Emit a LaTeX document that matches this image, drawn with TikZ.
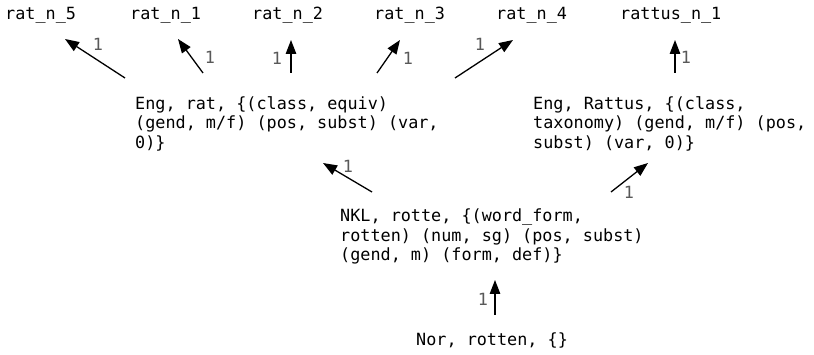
\documentclass[tikz,border=0pt]{standalone}
\usepackage{fontspec}
\setmonofont{DejaVu Sans Mono}
\usetikzlibrary{arrows.meta}

\tikzset{
  word/.style={font=\fontsize{16.8}{19.5}\selectfont\ttfamily, inner sep=0pt, anchor=base west},
  entry/.style={word, align=left, anchor=north west},
  edge/.style={line width=1.3pt, -{Triangle[length=14pt,width=10.5pt]}},
  weight/.style={font=\fontsize{16.8}{19.5}\selectfont\ttfamily, text=black!65, inner sep=0pt},
}

\begin{document}
\begin{tikzpicture}[x=1pt,y=-1pt]
    \useasboundingbox (0,0) rectangle (814,355);
    % senses on the top row
    \node[word] (r5) at (5,20) {rat\_n\_5};
    \node[word] (r1) at (130,20) {rat\_n\_1};
    \node[word] (r2) at (252,20) {rat\_n\_2};
    \node[word] (r3) at (374,20) {rat\_n\_3};
    \node[word] (r4) at (496,20) {rat\_n\_4};
    \node[word] (rn1) at (620,20) {rattus\_n\_1};
    % lexical entries
    \node[entry] (engrat) at (135,96)
        {Eng, rat, \{(class, equiv)\\(gend, m/f) (pos, subst) (var,\\0)\}};
    \node[entry] (engrattus) at (533,96)
        {Eng, Rattus, \{(class,\\taxonomy) (gend, m/f) (pos,\\subst) (var, 0)\}};
    \node[entry] (nkl) at (340,209)
        {NKL, rotte, \{(word\_form,\\rotten) (num, sg) (pos, subst)\\(gend, m) (form, def)\}};
    \node[entry] (nor) at (416,333) {Nor, rotten, \{\}};
    % translation links
    \draw[edge] ([shift={(-10,-18)}]engrat.north west) -- ([shift={(60,19)}]r5.base west);
    \draw[edge] ([shift={(68,-23)}]engrat.north west) -- ([shift={(48,19)}]r1.base west);
    \draw[edge] ([shift={(156,-23)}]engrat.north west) -- ([shift={(39,20)}]r2.base west);
    \draw[edge] ([shift={(242,-23)}]engrat.north west) -- ([shift={(26,20)}]r3.base west);
    \draw[edge] ([shift={(320,-18)}]engrat.north west) -- ([shift={(17,20)}]r4.base west);
    \draw[edge] ([shift={(142,-23)}]engrattus.north west) -- ([shift={(55,20)}]rn1.base west);
    \draw[edge] ([shift={(32,-17)}]nkl.north west) -- ([shift={(188,67)}]engrat.north west);
    \draw[edge] ([shift={(271,-17)}]nkl.north west) -- ([shift={(115,67)}]engrattus.north west);
    \draw[edge] ([shift={(79,-18)}]nor.north west) -- ([shift={(155,71)}]nkl.north west);
    % weights
    \foreach \x/\y [count=\i] in {98/44, 210/57, 277/58, 408/58, 480/44,
            686/57, 348/166, 629/192, 483/299}
        \node[weight] (w\i) at (\x,\y) {1};
\end{tikzpicture}
\end{document}
